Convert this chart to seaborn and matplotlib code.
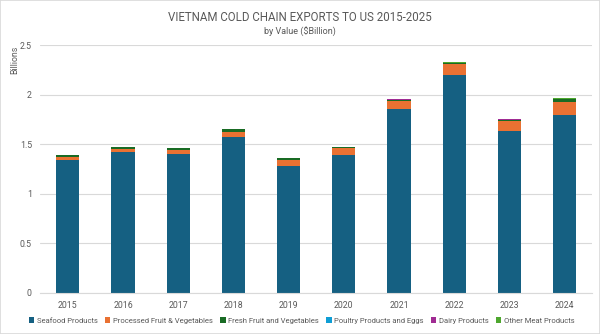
import numpy as np
import pandas as pd
import matplotlib
matplotlib.use("Agg")
import matplotlib.pyplot as plt
import seaborn as sns
from matplotlib.patches import Patch

years = ["2015", "2016", "2017", "2018", "2019", "2020", "2021", "2022", "2023", "2024"]
seafood = [1.34, 1.42, 1.40, 1.57, 1.28, 1.39, 1.86, 2.20, 1.63, 1.79]
processed = [0.035, 0.035, 0.043, 0.057, 0.06, 0.07, 0.08, 0.11, 0.10, 0.14]
fresh = [0.012, 0.012, 0.015, 0.022, 0.018, 0.012, 0.01, 0.012, 0.018, 0.026]
poultry = [0.001, 0.001, 0.001, 0.001, 0.001, 0.001, 0.001, 0.001, 0.001, 0.001]
dairy = [0.001, 0.001, 0.001, 0.001, 0.001, 0.001, 0.001, 0.001, 0.001, 0.001]
other_meat = [0.002, 0.002, 0.002, 0.003, 0.002, 0.002, 0.003, 0.005, 0.003, 0.004]

series_names = ["Seafood Products", "Processed Fruit & Vegetables", "Fresh Fruit and Vegetables",
                "Poultry Products and Eggs", "Dairy Products", "Other Meat Products"]
series_vals = [seafood, processed, fresh, poultry, dairy, other_meat]
colors = ["#156082", "#E97132", "#196B24", "#0F9ED5", "#A02B93", "#4EA72E"]

sns.set_theme(style="white")
plt.rcParams["font.family"] = ["Roboto", "DejaVu Sans"]

fig = plt.figure(figsize=(6.0, 3.34), dpi=100)
ax = fig.add_axes([0.067, 0.123, 0.92, 0.742])

cum = np.cumsum(np.array(series_vals), axis=0)
for i in range(len(series_names) - 1, -1, -1):
    df = pd.DataFrame({"year": years, "value": cum[i]})
    sns.barplot(data=df, x="year", y="value", color=colors[i], saturation=1,
                width=0.42, ax=ax, edgecolor="none", linewidth=0)

ax.set_ylim(0, 2.5)
ax.set_yticks([0, 0.5, 1, 1.5, 2, 2.5])
ax.set_yticklabels(["0", "0.5", "1", "1.5", "2", "2.5"])
ax.yaxis.grid(True, color="#D9D9D9", linewidth=0.8)
ax.set_axisbelow(True)
for s in ["top", "right", "left"]:
    ax.spines[s].set_visible(False)
ax.spines["bottom"].set_color("#D9D9D9")
ax.spines["bottom"].set_linewidth(0.8)
ax.tick_params(axis="both", length=0, labelsize=6.3, colors="#595959", pad=6)
ax.set_xlabel("")
ax.set_ylabel("")

fig.text(0.024, 0.82, "Billions", rotation=90, fontsize=6.3, color="#595959", ha="center", va="center")
fig.text(0.5, 0.948, "VIETNAM COLD CHAIN EXPORTS TO US 2015-2025", fontsize=8.3, color="#595959",
         ha="center", va="center")
fig.text(0.5, 0.903, "by Value ($Billion)", fontsize=6.5, color="#595959", ha="center", va="center")

handles = [Patch(facecolor=c, edgecolor="none") for c in colors]
fig.legend(handles, series_names, loc="center", bbox_to_anchor=(0.503, 0.04), ncol=6, frameon=False,
           fontsize=5.5, labelcolor="#595959", handlelength=0.7, handleheight=0.7,
           handletextpad=0.35, columnspacing=0.95)

border = plt.Rectangle((0, 0), 1, 1, transform=fig.transFigure, fill=False,
                       edgecolor="#D9D9D9", linewidth=1.2)
fig.patches.append(border)

fig.savefig("out.png", dpi=100)
